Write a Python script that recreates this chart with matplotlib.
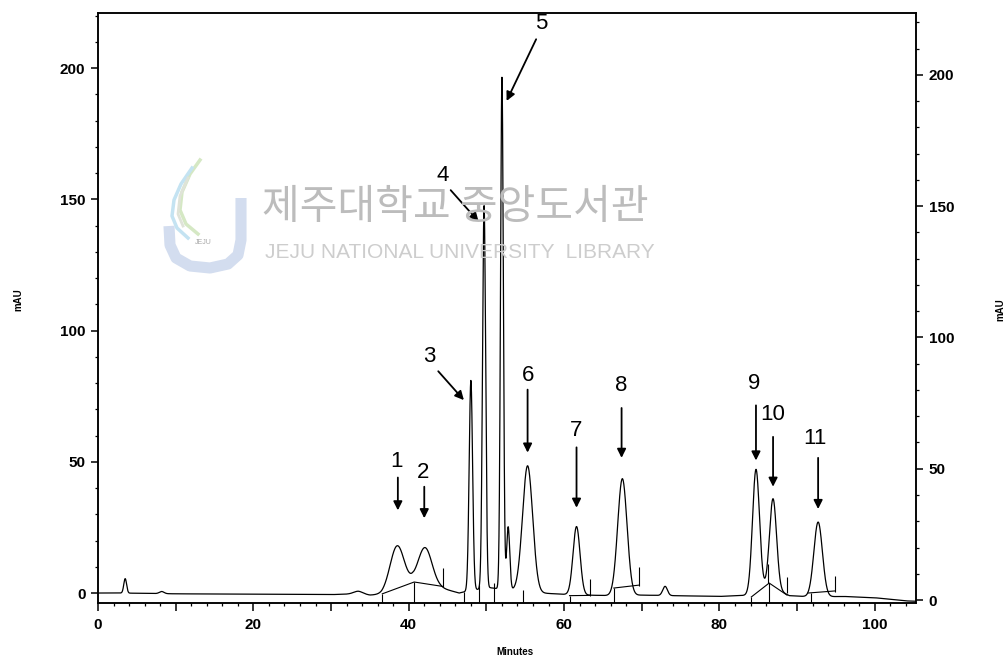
import numpy as np
import matplotlib
matplotlib.use("Agg")
import matplotlib.pyplot as plt
import matplotlib.transforms as mtransforms
from matplotlib.ticker import MultipleLocator, FuncFormatter

# peak table (min, mAU, sigma in min)
peak_rt = [3.5, 8.2, 33.5, 38.5, 42.1, 48.0, 49.7, 52.0, 52.8, 55.3, 61.6, 67.5, 73.0, 84.7, 86.9, 92.7]
peak_height = [5.5, 0.8, 1.0, 16.5, 14.5, 80, 146, 195, 24, 48, 26, 44.5, 3.5, 47, 34, 28.5]
peak_sigma = [0.18, 0.3, 0.6, 0.9, 0.9, 0.22, 0.2, 0.18, 0.2, 0.65, 0.45, 0.6, 0.3, 0.45, 0.45, 0.55]

# slow baseline drift of the detector signal
base_t = [0, 3, 10, 30, 33.5, 35, 36.5, 40.5, 44, 46.5, 48, 50.5, 53.5, 57, 60, 63, 66, 70, 74, 80, 84, 86.5, 89, 92, 96, 100, 104, 106]
base_y = [0, 0, -0.3, -0.6, -0.3, -0.8, -0.5, 3.5, 2.0, 0.0, 1.0, 2.0, 1.0, 0.0, -0.5, -0.8, -1.0, -0.8, -1.0, -1.3, -0.8, 2.5, -1.0, -1.5, -1.3, -1.8, -3.0, -3.2]

# peak numbers with label spot, arrow tail and arrow head (min, mAU)
label_text = ['1', '2', '3', '4', '5', '6', '7', '8', '9', '10', '11']
label_xy = [(38.4, 50), (41.8, 46), (42.6, 90), (44.4, 159), (57.1, 217), (55.3, 83),
            (61.5, 62), (67.4, 79), (84.5, 80), (86.9, 68), (92.3, 59)]
arrow_from = [(38.6, 44), (42.0, 40.5), (43.8, 84.5), (45.4, 153.5), (56.4, 211), (55.3, 77.5),
              (61.6, 55.5), (67.4, 70.5), (84.7, 71.5), (86.9, 59.5), (92.7, 51.5)]
arrow_to = [(38.6, 31.5), (42.0, 28.5), (47.1, 73.5), (49.0, 141.5), (52.6, 187.5), (55.3, 53.5),
            (61.6, 32.5), (67.4, 51.5), (84.7, 50.5), (86.9, 40.5), (92.7, 32.0)]

# integration baselines and event marks drawn by the data system
integ_t = [[36.6, 40.7, 44.4], [60.7, 63.3], [66.4, 69.6], [84.1, 86.4, 88.7], [91.4, 94.9]]
integ_y = [[-0.3, 4.2, 2.5], [-1.0, -0.9], [1.9, 3.0], [-1.5, 3.8, -0.8], [0.0, 0.8]]
drop_t = [36.6, 40.7, 47.1, 49.0, 51.0, 54.7, 60.7, 66.4, 84.1, 86.4, 91.8]
drop_top = [-0.3, 4.2, 0.5, 3.0, 4.0, 1.0, -1.0, 1.9, -1.5, 3.8, 0.0]
tick_t = [44.4, 63.3, 69.6, 86.2, 88.7, 94.9]
tick_lo = [2.3, -1.0, 2.5, 4.0, 0.0, 0.5]
tick_hi = [9.5, 5.5, 10.0, 11.0, 6.0, 6.5]

plt.rcParams['font.family'] = ['Liberation Sans', 'DejaVu Sans']

fig = plt.figure(figsize=(10.06, 6.6), dpi=100)
ax = fig.add_axes([98 / 1006, 57 / 660, 818 / 1006, 590 / 660])
ax.set_facecolor('none')

t = np.linspace(0, 106, 8000)
signal = np.interp(t, base_t, base_y)
for rt, h, s in zip(peak_rt, peak_height, peak_sigma):
    signal = signal + h * np.exp(-0.5 * ((t - rt) / s) ** 2)
ax.plot(t, signal, color='black', lw=0.9, zorder=3)

for xs, ys in zip(integ_t, integ_y):
    ax.plot(xs, ys, color='black', lw=0.8, zorder=3)
ax.vlines(drop_t, -3.8, drop_top, color='black', lw=0.8, zorder=3)
ax.vlines(tick_t, tick_lo, tick_hi, color='black', lw=0.8, zorder=3)

for txt, xy, a0, a1 in zip(label_text, label_xy, arrow_from, arrow_to):
    ax.text(xy[0], xy[1], txt, ha='center', va='center', fontsize=16, zorder=4)
    ax.annotate('', xy=a1, xytext=a0, zorder=4,
                arrowprops=dict(arrowstyle='-|>', color='black', lw=1.3,
                                mutation_scale=13, shrinkA=0, shrinkB=0))

ax.set_xlim(0, 105.3)
ax.set_ylim(-3.8, 221)
ax.xaxis.set_major_locator(MultipleLocator(10))
ax.xaxis.set_minor_locator(MultipleLocator(2))
ax.xaxis.set_major_formatter(FuncFormatter(lambda v, p: f'{v:.0f}' if round(v) % 20 == 0 else ''))
ax.yaxis.set_major_locator(MultipleLocator(50))
ax.yaxis.set_minor_locator(MultipleLocator(10))

ax2 = ax.twinx()
ax2.set_ylim(-1.14, 223.6)
ax2.yaxis.set_major_locator(MultipleLocator(50))
ax2.yaxis.set_minor_locator(MultipleLocator(10))

for a in (ax, ax2):
    for sp in a.spines.values():
        sp.set_linewidth(1.1)
    a.tick_params(which='major', length=5, width=1.1, labelsize=11, pad=4)
    a.tick_params(which='minor', length=2.5, width=0.9)
    for lab in a.get_xticklabels() + a.get_yticklabels():
        lab.set_fontweight('bold')
ax.tick_params(axis='x', which='major', length=6, pad=5)

fig.text(18 / 1006, 1 - 300 / 660, 'mAU', rotation=90, ha='center', va='center', fontsize=7, fontweight='bold')
fig.text(1000 / 1006, 1 - 310 / 660, 'mAU', rotation=90, ha='center', va='center', fontsize=7, fontweight='bold')
fig.text(515 / 1006, 1 - 652 / 660, 'Minutes', ha='center', va='center', fontsize=7, fontweight='bold')

# library watermark (pixel placement, top-left origin)
px = mtransforms.Affine2D().scale(1, -1).translate(0, 660)
fig.text(455, 208, '제주대학교 중앙도서관', transform=px, ha='center', va='center', fontsize=29.5,
         color='#bcbcbc', family=['Noto Sans CJK KR', 'DejaVu Sans'], zorder=0)
fig.text(460, 253, 'JEJU NATIONAL UNIVERSITY  LIBRARY', transform=px, ha='center', va='center',
         fontsize=15, color='#cdcdcd', zorder=0)
logo_j = ([241, 241, 238, 228, 210, 190, 176, 170, 169], [198, 240, 255, 264, 268, 266, 258, 245, 226])
fig.add_artist(plt.Line2D(*logo_j, transform=px, color='#d3ddef', lw=8, solid_capstyle='butt', zorder=0))
fig.add_artist(plt.Line2D([200, 190, 182, 180, 186, 198], [160, 174, 192, 210, 224, 234], transform=px,
                          color='#d5e8c4', lw=2.5, zorder=0))
fig.add_artist(plt.Line2D([192, 181, 174, 172, 177, 188], [168, 184, 200, 216, 228, 238], transform=px,
                          color='#c4e3f2', lw=2.5, zorder=0))
fig.add_artist(plt.Line2D([188, 180, 178, 183], [178, 196, 214, 226], transform=px,
                          color='#dfe3d8', lw=2, zorder=0))
fig.text(203, 243, 'JEJU', transform=px, ha='center', va='center', fontsize=5, color='#a8a8a8', zorder=0)

fig.savefig('out.png', dpi=100)
